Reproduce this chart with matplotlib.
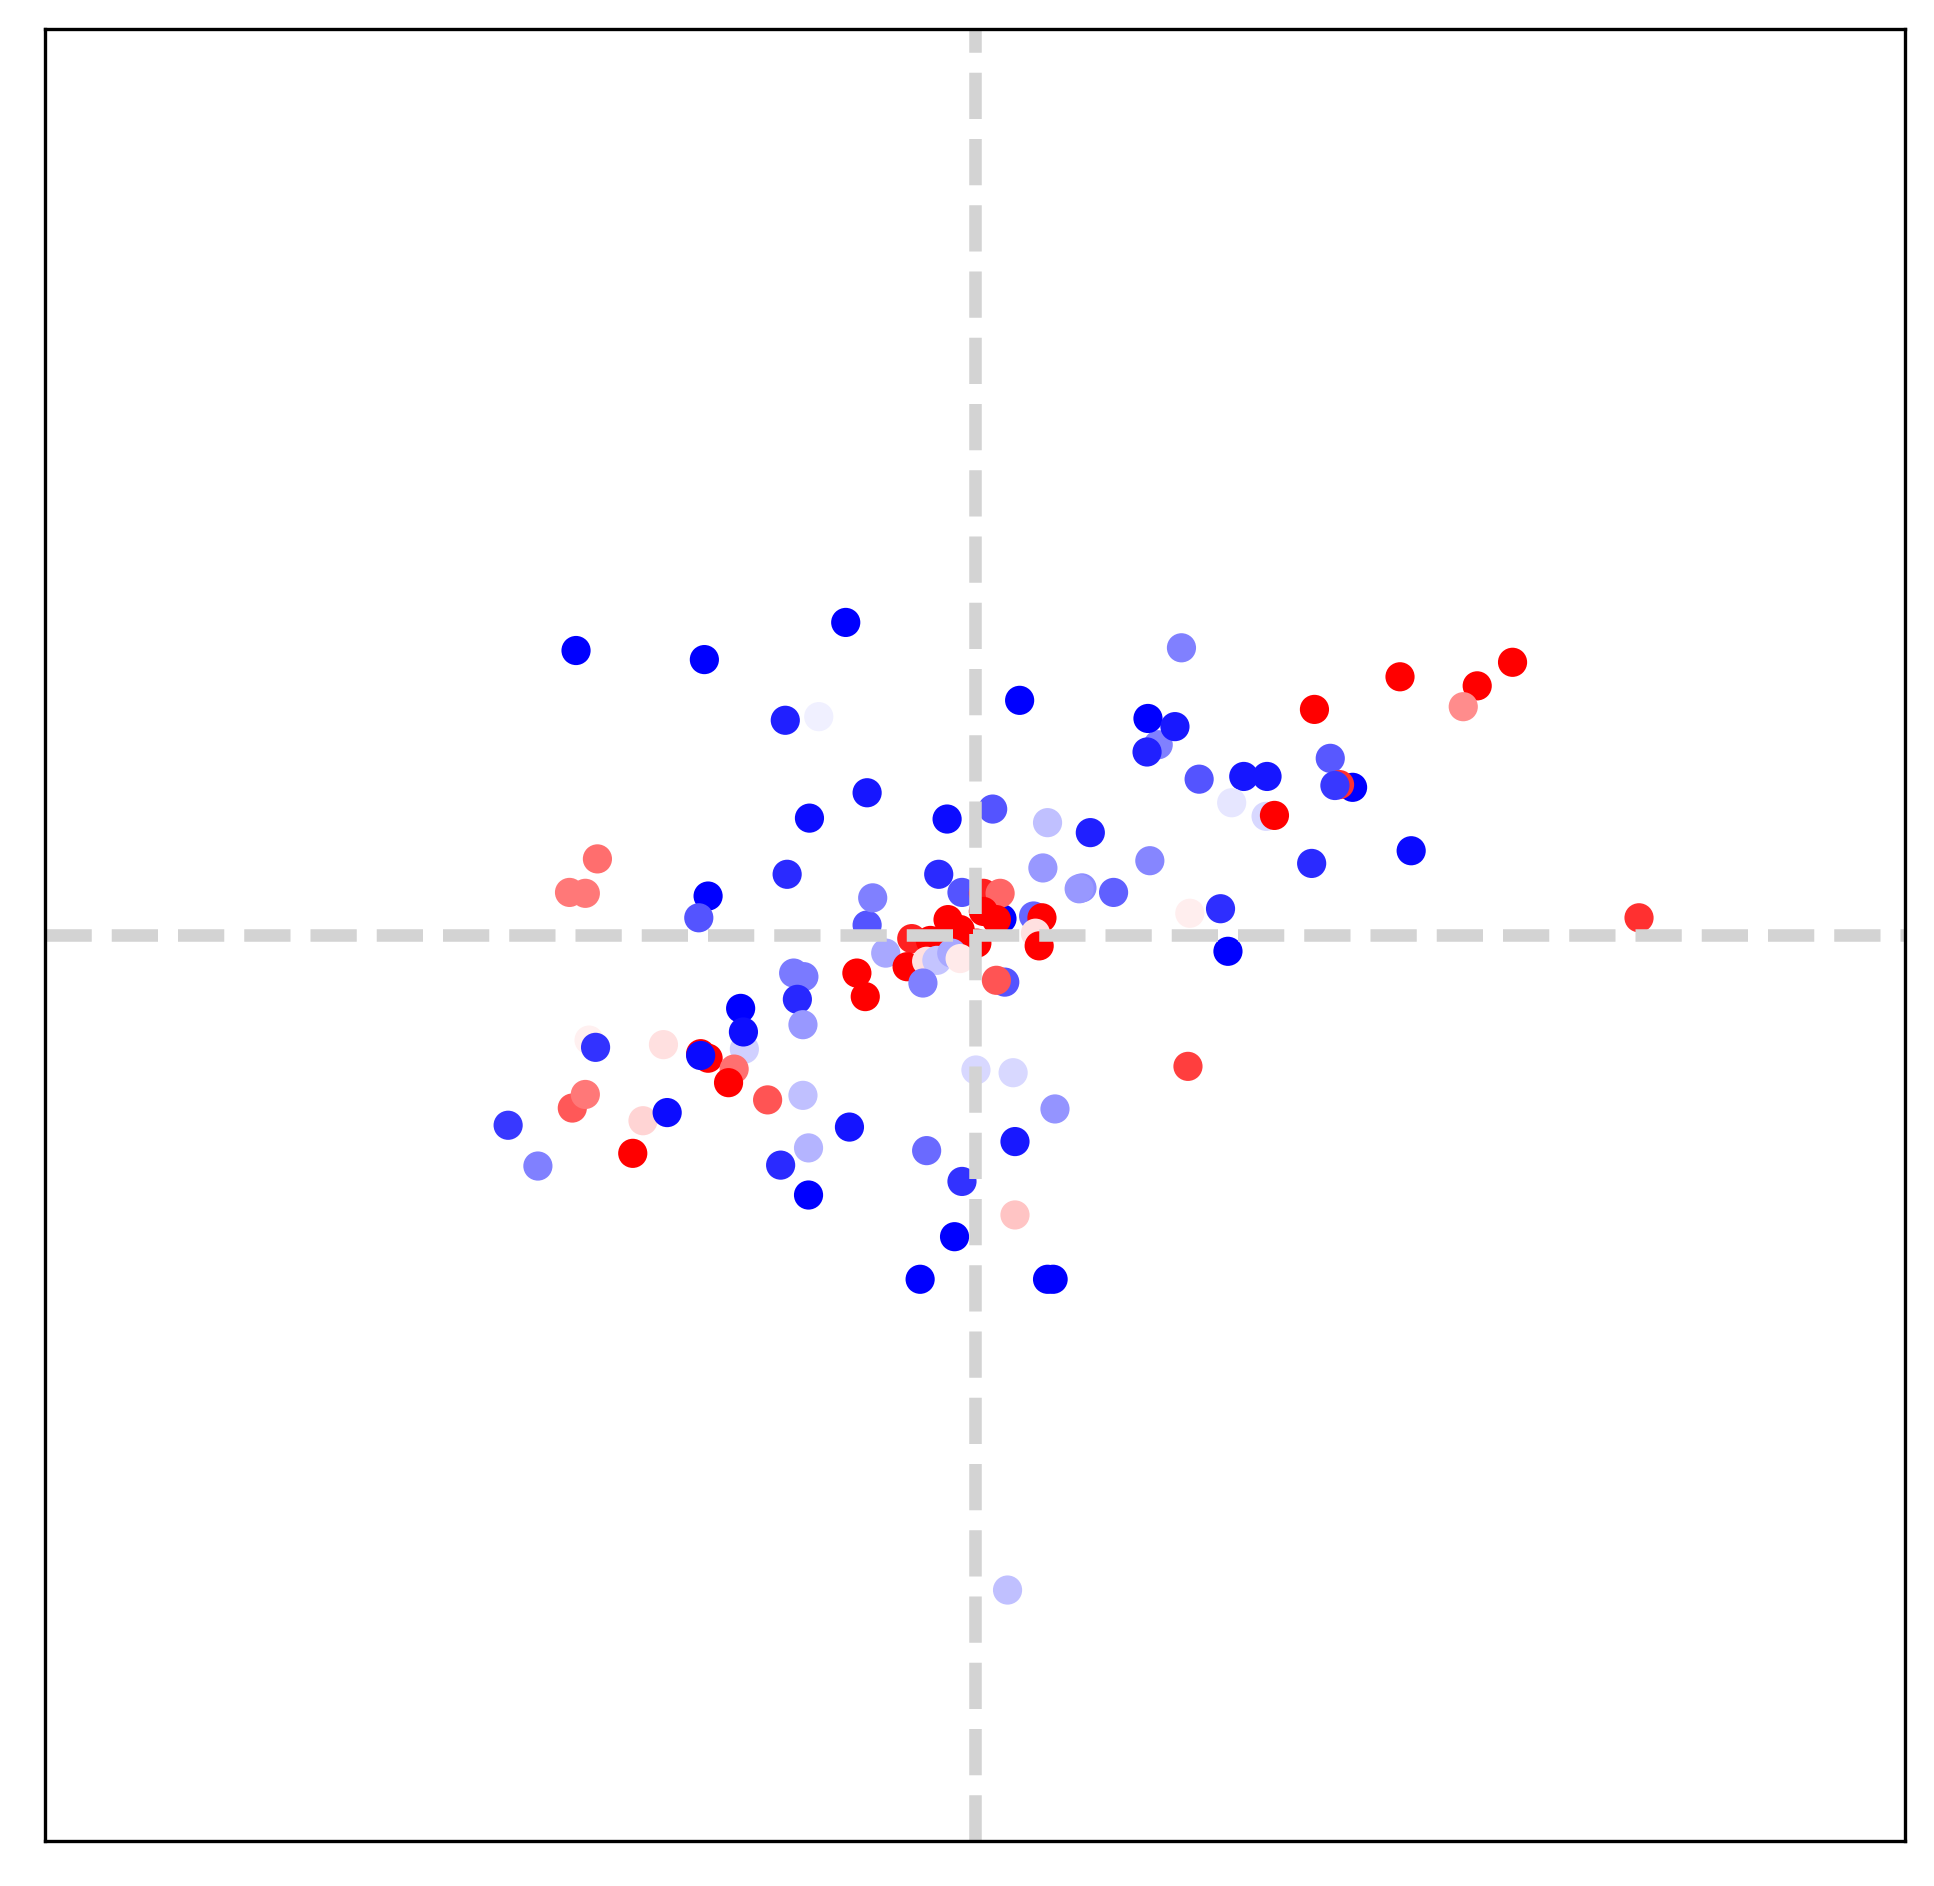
import matplotlib
matplotlib.use("Agg")
import matplotlib.pyplot as plt
import numpy as np

# point positions (axes run -1..1 on both sides) and colour values for bwr
x_vals = [
    -0.429, -0.291, -0.139, -0.204, -0.168, -0.116, -0.178, -0.406, -0.436, -0.419,
    -0.287, -0.297, -0.202, -0.116, -0.110, 0.222, 0.048, 0.197, 0.186, 0.215,
    0.185, 0.241, 0.289, 0.314, 0.276, 0.313, 0.322, -0.030, 0.019, 0.078,
    0.124, 0.073, 0.115, 0.112, 0.149, 0.188, 0.231, 0.264, -0.039, -0.014,
    0.029, 0.009, 0.027, 0.063, 0.072, 0.272, -0.029, 0.009, 0.023, -0.016,
    -0.068, -0.048, 0.002, 0.065, 0.069, -0.096, -0.127, -0.118, -0.073, -0.052,
    -0.041, -0.025, -0.016, -0.056, 0.032, 0.023, 0.001, 0.041, 0.229, 0.086,
    0.043, -0.052, -0.014, 0.043, -0.022, -0.059, 0.078, 0.084, 0.035, 0.457,
    0.365, 0.540, 0.578, 0.525, 0.382, 0.406, 0.392, 0.387, 0.362, 0.469,
    0.714, -0.502, -0.470, -0.433, -0.419, -0.415, -0.408, -0.335, -0.357, -0.331,
    -0.368, -0.295, -0.287, -0.295, -0.252, -0.248, -0.249, -0.259, -0.265, -0.223,
    -0.195, -0.184, -0.191, -0.185, -0.185, -0.135, -0.179, -0.209, -0.179,
]
y_vals = [
    0.314, 0.304, 0.345, 0.237, 0.241, 0.157, 0.129, 0.084, 0.047, 0.046,
    0.043, 0.019, 0.067, 0.011, 0.041, 0.317, 0.259, 0.210, 0.239, 0.230,
    0.202, 0.172, 0.175, 0.175, 0.146, 0.131, 0.132, 0.128, 0.139, 0.124,
    0.113, 0.074, 0.052, 0.051, 0.047, 0.082, 0.024, 0.029, 0.067, 0.047,
    0.018, 0.046, 0.046, 0.021, 0.019, -0.018, 0.017, 0.026, 0.017, 0.006,
    -0.004, -0.006, -0.009, 0.002, -0.012, -0.020, -0.042, -0.068, -0.035, -0.029,
    -0.028, -0.020, -0.026, -0.053, -0.052, -0.050, -0.149, -0.152, -0.145, -0.192,
    -0.228, -0.238, -0.272, -0.309, -0.333, -0.380, -0.380, -0.380, -0.723, 0.285,
    0.249, 0.275, 0.301, 0.252, 0.195, 0.163, 0.166, 0.165, 0.079, 0.093,
    0.019, -0.210, -0.255, -0.191, -0.176, -0.116, -0.124, -0.121, -0.205, -0.196,
    -0.241, -0.131, -0.136, -0.133, -0.081, -0.126, -0.107, -0.148, -0.163, -0.182,
    -0.042, -0.046, -0.071, -0.099, -0.177, -0.212, -0.235, -0.254, -0.287,
]
c_vals = [
    -1.0, -1.0, -1.0, -0.87, -0.06, -0.91, -0.95, 0.57, 0.53, 0.53,
    -1.0, -0.67, -0.83, -0.67, -0.5, -0.5, -1.0, -0.5, -1.0, -0.9,
    -0.87, -0.67, -0.91, -0.91, -0.1, -0.15, 1.0, -0.95, -0.67, -0.25,
    -0.87, -0.4, -0.45, -0.4, -0.62, -0.47, 0.07, -0.82, -0.83, -0.67,
    -1.0, 0.87, 0.6, -0.6, 1.0, -1.0, 1.0, 1.0, 1.0, 1.0,
    0.87, 1.0, 1.0, 0.12, 1.0, -0.34, 1.0, 1.0, 1.0, 0.12,
    -0.23, -0.34, 0.08, -0.5, -0.67, 0.67, -0.15, -0.15, 0.75, -0.42,
    -0.9, -0.58, -0.8, 0.23, -1.0, -1.0, -1.0, -1.0, -0.25, 1.0,
    1.0, 1.0, 1.0, 0.45, -0.65, -1.0, 0.81, -0.78, -0.83, -0.96,
    0.81, -0.78, -0.5, 0.65, 0.53, 0.06, -0.8, 0.12, 0.17, -0.95,
    1.0, 1.0, 1.0, -0.96, -1.0, -0.18, -0.94, 0.56, 1.0, 0.67,
    -0.52, -0.52, -0.84, -0.4, -0.25, -0.92, -0.29, -0.83, -1.0,
]

fig = plt.figure(figsize=(1934 / 300, 1886 / 300), dpi=300)
ax = fig.add_axes([45 / 1934, 45 / 1886, 1860 / 1934, 1812 / 1886])

ax.scatter(x_vals, y_vals, c=c_vals, cmap='bwr', vmin=-1, vmax=1)
ax.axvline(0, color='lightgray', linestyle='--', linewidth=3)
ax.axhline(0, color='lightgray', linestyle='--', linewidth=3)

ax.set_xlim(-1, 1)
ax.set_ylim(-1, 1)
ax.set_xticks([])
ax.set_yticks([])

fig.savefig('out.png', dpi=300)
